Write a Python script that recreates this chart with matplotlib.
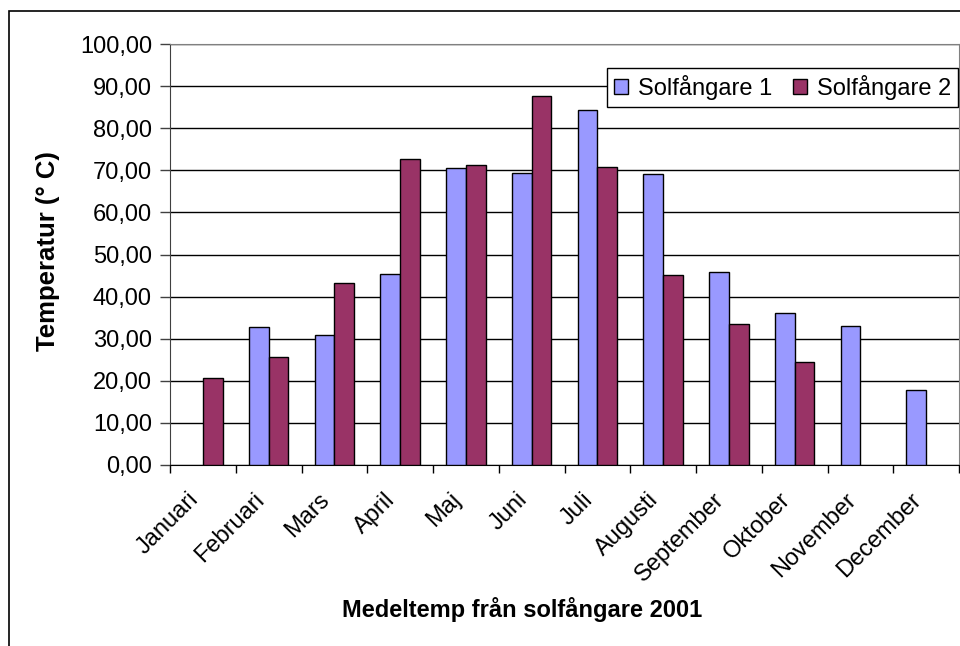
import numpy as np
import matplotlib
matplotlib.use("Agg")
from matplotlib import pyplot as plt
from matplotlib.patches import Rectangle
from matplotlib.ticker import FuncFormatter, FixedLocator

plt.rcParams['font.family'] = ['Liberation Sans', 'DejaVu Sans']

months = ["Januari", "Februari", "Mars", "April", "Maj", "Juni", "Juli",
          "Augusti", "September", "Oktober", "November", "December"]
# medeltemperatur per månad, nan = saknas
solfangare_1 = [np.nan, 32.7, 30.9, 45.4, 70.5, 69.4, 84.3, 69.1, 45.9, 36.0, 33.1, 17.8]
solfangare_2 = [20.6, 25.7, 43.2, 72.8, 71.3, 87.6, 70.9, 45.1, 33.5, 24.4, np.nan, np.nan]
series_names = ["Solfångare 1", "Solfångare 2"]

FS = 17
W, H = 960, 646
fig = plt.figure(figsize=(W / 100, H / 100), dpi=100)

# ram runt hela diagrammet
fig.patches.append(Rectangle((9 / W, -0.1), 1.2, 1 - 11 / H + 0.1,
                             transform=fig.transFigure, fill=False,
                             edgecolor="#000000", lw=1.2))

ax = fig.add_axes([170 / W, 1 - 465 / H, 789 / W, 421 / H])

x = np.arange(len(months))
width = 0.3
ax.bar(x - width / 2, solfangare_1, width, color="#9999FF", edgecolor="#000000",
       lw=1.0, label=series_names[0], zorder=3)
ax.bar(x + width / 2, solfangare_2, width, color="#993366", edgecolor="#000000",
       lw=1.0, label=series_names[1], zorder=3)

ax.set_xlim(-0.5, len(months) - 0.5)
ax.set_ylim(0, 100)
ax.set_yticks(np.arange(0, 101, 10))
ax.yaxis.set_major_formatter(FuncFormatter(lambda v, p: f"{v:.2f}".replace(".", ",")))
ax.yaxis.grid(True, color="#000000", lw=1.0, zorder=0)

# månadsnamn lite till vänster om mitten, streck mellan kategorierna
ax.set_xticks(x - 0.24)
ax.set_xticklabels(months, rotation=45, ha="right", rotation_mode="anchor")
ax.xaxis.set_minor_locator(FixedLocator(np.arange(-0.5, len(months), 1)))
ax.tick_params(axis="x", which="major", length=0, pad=17, labelsize=FS)
ax.tick_params(axis="x", which="minor", length=6, width=1, color="#000000")
ax.tick_params(axis="y", length=7, width=1, pad=6, labelsize=FS, color="#404040")

for side in ("top", "right"):
    ax.spines[side].set_color("#808080")
ax.spines["left"].set_color("#404040")
ax.spines["bottom"].set_color("#000000")

ax.set_ylabel("Temperatur (° C)", fontsize=18.5, fontweight="bold", va="center")
ax.yaxis.set_label_coords(-0.155, 0.508)
fig.text(522 / W, 1 - 609 / H, "Medeltemp från solfångare 2001", fontsize=FS,
         fontweight="bold", ha="center", va="center")

leg = ax.legend(loc="upper right", bbox_to_anchor=(958 / W, 1 - 68 / H),
                bbox_transform=fig.transFigure, ncol=2, fontsize=FS,
                fancybox=False, framealpha=1, edgecolor="#000000",
                borderaxespad=0, handlelength=0.6, handleheight=0.6,
                handletextpad=0.4, columnspacing=0.9, borderpad=0.3)
leg.get_frame().set_linewidth(1.0)

fig.savefig("out.png", dpi=100)
